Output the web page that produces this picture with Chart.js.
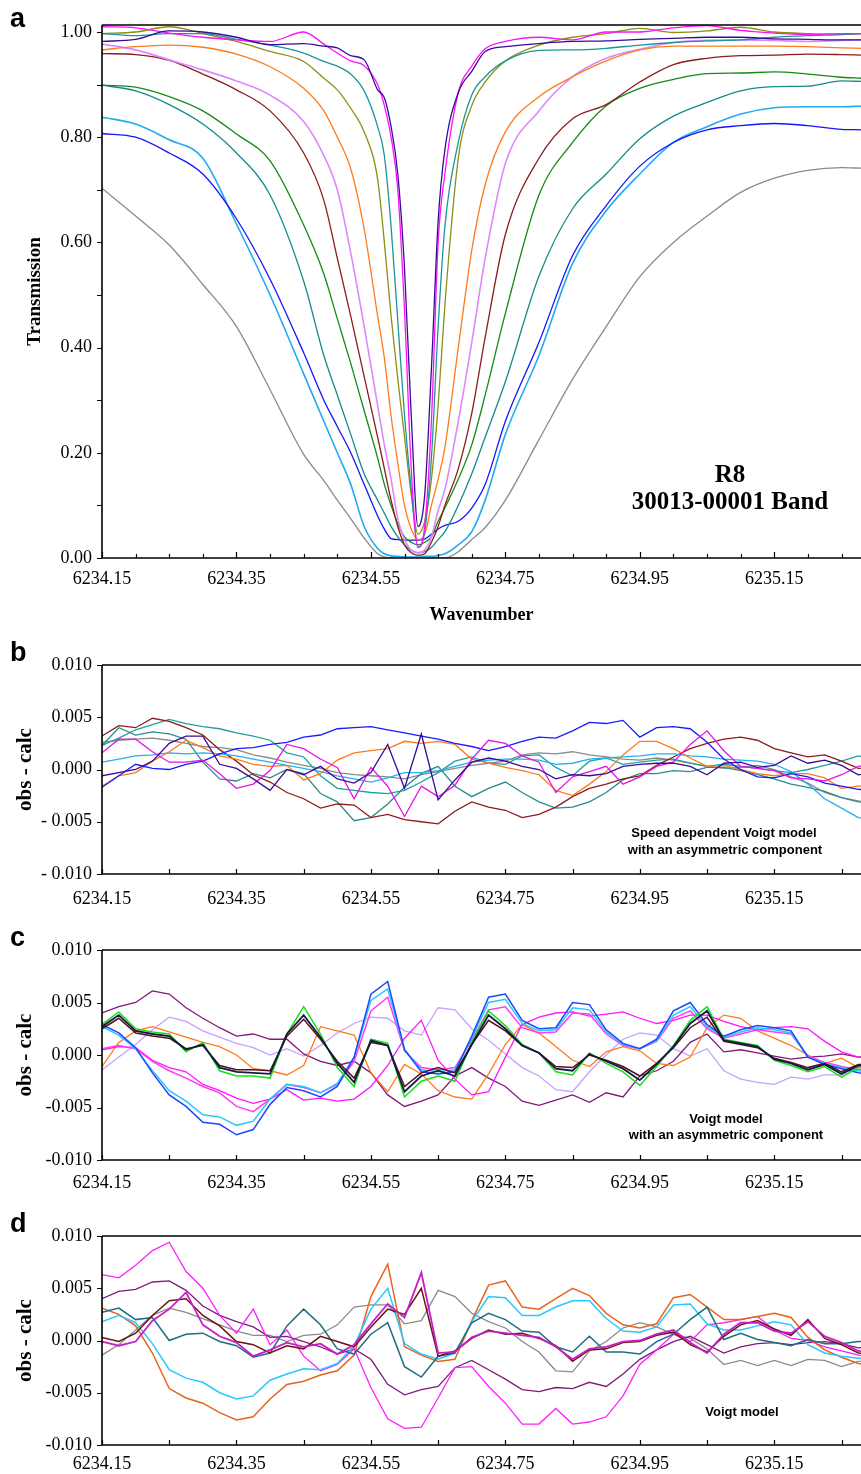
<!DOCTYPE html>
<html><head><meta charset="utf-8">
<script src="https://cdn.jsdelivr.net/npm/chart.js@4.4.0/dist/chart.umd.min.js"></script>
<style>
html,body{margin:0;padding:0;background:#fff;}
body{width:861px;height:1474px;position:relative;overflow:hidden;}
canvas{position:absolute;left:0;}
.lbl{position:absolute;white-space:nowrap;color:#000;}
.letter{font:bold 27px "Liberation Sans",Arial,sans-serif;line-height:27px;left:10px;}
.band{font:bold 25px "Liberation Serif","Times New Roman",serif;line-height:25px;width:300px;left:580px;text-align:center;}
.note{font:bold 13px "Liberation Sans",Arial,sans-serif;line-height:13px;width:300px;text-align:center;}
</style></head><body>
<canvas id="ca" width="861" height="640" style="top:0px"></canvas>
<canvas id="cb" width="861" height="270" style="top:640px"></canvas>
<canvas id="cc" width="861" height="270" style="top:925px"></canvas>
<canvas id="cd" width="861" height="264" style="top:1210px"></canvas>
<div class="lbl letter" style="top:5px">a</div>
<div class="lbl letter" style="top:639px">b</div>
<div class="lbl letter" style="top:924px">c</div>
<div class="lbl letter" style="top:1210px">d</div>
<div class="lbl band" style="top:461px">R8</div>
<div class="lbl band" style="top:488px">30013-00001 Band</div>
<div class="lbl note" style="top:826px;left:574px">Speed dependent Voigt model</div>
<div class="lbl note" style="top:843px;left:575px">with an asymmetric component</div>
<div class="lbl note" style="top:1112px;left:576px">Voigt model</div>
<div class="lbl note" style="top:1128px;left:576px">with an asymmetric component</div>
<div class="lbl note" style="top:1405px;left:592px">Voigt model</div>
<script>
// ---------- Panel a : transmission spectra ----------
const aWave = [6234.15, 6234.20, 6234.25, 6234.30, 6234.35, 6234.40, 6234.45, 6234.48, 6234.50, 6234.52,
  6234.54, 6234.56, 6234.57, 6234.58, 6234.59, 6234.60, 6234.61, 6234.62, 6234.63, 6234.64,
  6234.65, 6234.66, 6234.68, 6234.70, 6234.72, 6234.75, 6234.80, 6234.85, 6234.90, 6234.95,
  6235.00, 6235.05, 6235.10, 6235.15, 6235.20, 6235.25, 6235.28];
const aIndigo = [0.982,0.986,1.002,1.0,0.99,0.976,0.978,0.973,0.97,0.955,0.947,0.89,0.875,0.82,0.73,0.55,0.27,0.06,0.12,0.36,0.64,0.776,0.885,0.925,0.963,0.972,0.978,0.982,0.983,0.986,0.988,0.99,0.99,0.987,0.986,0.985,0.985];
const aMagenta = [1.01,1.008,0.998,0.99,0.985,0.982,1.0,0.977,0.96,0.945,0.936,0.90,0.86,0.80,0.70,0.47,0.17,0.02,0.06,0.26,0.60,0.73,0.885,0.935,0.968,0.982,0.99,0.985,1.0,1.0,1.008,1.012,1.003,0.998,0.995,0.997,0.997];
const aTealNarrow = [0.997,0.993,0.997,0.997,0.986,0.975,0.96,0.944,0.935,0.92,0.888,0.82,0.765,0.63,0.45,0.27,0.13,0.02,0.05,0.19,0.44,0.63,0.79,0.88,0.915,0.945,0.965,0.966,0.969,0.975,0.98,0.983,0.985,0.99,0.993,0.995,0.997];
const aOlive = [0.997,1.0,1.01,0.997,0.982,0.963,0.944,0.912,0.89,0.855,0.81,0.72,0.60,0.46,0.34,0.23,0.12,0.045,0.07,0.15,0.29,0.48,0.76,0.86,0.905,0.945,0.975,0.99,0.997,1.007,0.999,1.002,1.009,1.0,0.997,0.996,0.997];
const aOrange = [0.966,0.972,0.975,0.971,0.958,0.934,0.893,0.85,0.80,0.74,0.625,0.46,0.38,0.27,0.18,0.10,0.055,0.035,0.045,0.10,0.15,0.21,0.40,0.585,0.71,0.81,0.877,0.915,0.945,0.966,0.973,0.973,0.973,0.973,0.972,0.97,0.969];
const aViolet = [0.977,0.966,0.947,0.928,0.907,0.88,0.83,0.765,0.70,0.58,0.44,0.29,0.215,0.15,0.075,0.035,0.015,0.01,0.015,0.04,0.09,0.13,0.26,0.41,0.57,0.75,0.85,0.915,0.95,0.967,0.98,0.984,0.985,0.984,0.982,0.984,0.985];
const aMaroon = [0.959,0.957,0.946,0.92,0.89,0.85,0.77,0.68,0.57,0.46,0.345,0.23,0.17,0.11,0.06,0.025,0.01,0.005,0.008,0.03,0.06,0.10,0.17,0.275,0.42,0.615,0.76,0.835,0.862,0.905,0.938,0.95,0.955,0.956,0.958,0.957,0.956];
const aGreen = [0.899,0.895,0.877,0.85,0.806,0.755,0.633,0.54,0.455,0.37,0.28,0.19,0.14,0.10,0.065,0.04,0.03,0.025,0.03,0.04,0.07,0.095,0.15,0.215,0.31,0.465,0.69,0.79,0.86,0.893,0.91,0.921,0.922,0.924,0.92,0.914,0.912];
const aTealWide = [0.899,0.888,0.862,0.825,0.77,0.69,0.526,0.385,0.31,0.235,0.16,0.11,0.085,0.06,0.04,0.025,0.015,0.01,0.012,0.02,0.035,0.05,0.10,0.16,0.23,0.335,0.536,0.664,0.73,0.797,0.84,0.866,0.888,0.896,0.897,0.907,0.906];
const aBlue = [0.807,0.80,0.77,0.73,0.645,0.53,0.39,0.30,0.25,0.20,0.14,0.08,0.055,0.037,0.035,0.034,0.034,0.034,0.036,0.045,0.055,0.062,0.07,0.095,0.14,0.26,0.41,0.575,0.67,0.745,0.79,0.814,0.822,0.826,0.822,0.815,0.814];
const aLightBlue = [0.838,0.825,0.795,0.76,0.635,0.50,0.35,0.26,0.20,0.14,0.06,0.018,0.008,0.004,0.003,0.002,0.002,0.002,0.003,0.003,0.005,0.008,0.025,0.05,0.11,0.235,0.385,0.56,0.66,0.73,0.79,0.82,0.844,0.856,0.858,0.858,0.859];
const aGray = [0.703,0.65,0.595,0.52,0.44,0.32,0.197,0.147,0.11,0.075,0.038,0.008,0.002,0.0,0.0,0.0,0.0,0.0,0.0,0.0,0.0,0.0,0.012,0.035,0.058,0.11,0.225,0.34,0.44,0.535,0.60,0.65,0.695,0.722,0.737,0.742,0.741];

const aXTicks = [6234.15,6234.2,6234.25,6234.3,6234.35,6234.4,6234.45,6234.5,6234.55,6234.6,6234.65,6234.7,6234.75,6234.8,6234.85,6234.9,6234.95,6235.0,6235.05,6235.1,6235.15,6235.2,6235.25];
const aXLabels = ['6234.15','','','','6234.35','','','','6234.55','','','','6234.75','','','','6234.95','','','','6235.15','',''];
const aYTicks = [0,0.1,0.2,0.3,0.4,0.5,0.6,0.7,0.8,0.9,1.0];
const aYLabels = ['0.00','','0.20','','0.40','','0.60','','0.80','','1.00'];

// ---------- Residual panels (values in units of 0.001) ----------
const resX = [6234.15,6234.175,6234.2,6234.225,6234.25,6234.275,6234.3,6234.325,6234.35,6234.375,
  6234.4,6234.425,6234.45,6234.475,6234.5,6234.525,6234.55,6234.575,6234.6,6234.625,
  6234.65,6234.675,6234.7,6234.725,6234.75,6234.775,6234.8,6234.825,6234.85,6234.875,
  6234.9,6234.925,6234.95,6234.975,6235.0,6235.025,6235.05,6235.075,6235.1,6235.125,
  6235.15,6235.175,6235.2,6235.225,6235.25,6235.275,6235.3];
const resXTicks = [6234.15,6234.25,6234.35,6234.45,6234.55,6234.65,6234.75,6234.85,6234.95,6235.05,6235.15,6235.25];
const resXLabels = ['6234.15','','6234.35','','6234.55','','6234.75','','6234.95','','6235.15',''];
const resYTicks = [-10,-5,0,5,10];
const bYLabels = ['- 0.010','- 0.005','0.000','0.005','0.010'];
const cdYLabels = ['-0.010','-0.005','0.000','0.005','0.010'];

// panel b : speed dependent Voigt + asymmetry
const bBlue = [-1.7,-0.6,0.5,0.1,0.0,0.5,0.8,1.5,2.0,2.1, 2.4,2.6,3.1,3.3,3.9,4.0,4.1,3.8,3.5,3.2, 2.9,2.5,2.2,1.8,2.2,2.7,3.1,3.0,3.7,4.5, 4.4,4.7,3.1,4.0,4.1,3.9,2.6,1.0,0.0,-0.7, -0.8,-0.4,-0.7,-1.3,-1.6,-1.9,-2.0];
const bMaroon = [3.2,4.2,4.0,4.9,4.6,4.0,3.3,1.9,0.8,-0.5, -1.2,-2.2,-2.8,-3.7,-3.3,-3.4,-4.6,-4.3,-4.8,-5.0, -5.2,-4.0,-3.1,-3.6,-3.9,-4.6,-4.3,-3.6,-2.6,-1.8, -1.4,-0.9,-0.6,0.4,1.2,2.0,2.5,2.9,3.1,2.8, 2.0,1.6,1.2,1.4,0.8,0.1,0.3];
const bTealA = [2.3,4.0,3.3,3.6,3.4,2.9,0.7,-0.9,-1.1,-0.4, -0.8,0.0,-0.4,-2.3,-3.1,-4.9,-4.6,-3.3,-1.7,-0.4, 0.3,-1.6,-2.6,-1.8,-1.2,-2.2,-3.1,-3.7,-3.6,-3.1, -2.2,-1.0,-0.4,-0.4,-0.1,-0.2,0.2,0.2,-0.1,-0.5, -0.9,-1.4,-1.7,-2.1,-2.7,-3.1,-3.2];
const bTealB = [2.3,3.0,3.8,4.3,4.8,4.4,4.1,3.9,3.5,3.2, 2.8,1.6,1.2,-0.6,-1.8,-2.0,-2.2,-2.3,-2.0,-1.2, -0.3,0.8,1.2,0.6,0.5,1.3,1.4,0.2,-0.6,0.8, 1.1,0.5,0.7,0.9,1.0,0.6,0.3,0.5,0.3,0.1, -0.1,-0.3,0.0,0.4,0.8,1.3,1.0];
const bGray = [2.6,2.8,2.9,3.0,2.8,2.5,2.2,2.1,1.9,1.4, 1.1,0.7,0.4,0.1,-0.3,-0.5,-0.6,-0.7,-0.9,-0.5, -0.2,0.1,0.4,0.6,0.8,1.4,1.6,1.5,1.7,1.4, 1.2,1.0,0.9,1.1,0.9,0.6,0.3,0.1,0.2,0.4, 0.0,-0.7,-1.3,-2.2,-2.7,-3.0,-3.2];
const bOrange = [-1.6,-0.6,-0.3,0.8,1.7,2.8,2.1,1.3,1.0,0.5, 0.3,0.4,-1.0,-0.4,0.9,1.6,1.8,2.0,2.7,2.5, 2.7,2.4,1.0,0.6,0.2,-0.1,-0.5,-2.0,-2.5,-1.4, -0.2,1.4,2.7,2.7,2.0,1.1,0.3,0.4,0.0,-0.4, -0.6,-0.4,-0.4,-0.8,-1.8,-1.6,-1.5];
const bIndigo = [-0.6,-0.3,0.0,0.8,2.5,3.2,3.2,0.5,0.1,-0.9, -2.0,0.0,-0.5,0.3,-0.9,-1.3,-0.3,2.4,-1.8,3.4, -2.9,-1.0,0.7,1.1,0.8,0.3,0.0,-0.9,-0.5,-0.6, -0.4,0.3,0.5,0.6,0.6,0.3,-0.5,0.6,0.7,0.2, 0.4,1.3,0.6,0.9,0.4,-0.5,-0.3];
const bMagenta = [1.6,2.9,2.9,1.7,0.7,0.7,0.9,-0.4,-1.8,-1.4, -0.1,2.4,2.0,1.0,0.2,-2.8,0.2,-1.6,-4.5,-1.6, -2.6,-1.5,1.0,2.8,2.5,1.3,0.7,-2.2,-0.7,-0.2, 0.3,-1.4,-0.7,0.3,0.7,2.4,3.7,1.8,0.3,0.1, -0.1,-0.8,-0.9,-1.1,-0.5,0.3,0.5];
const bLightBlue = [0.7,1.0,1.3,1.4,1.6,1.5,1.6,1.5,1.3,1.0, 0.7,0.4,0.1,-0.2,-0.6,-0.9,-1.2,-0.8,-0.3,-0.3, -0.1,0.3,0.7,0.9,1.0,1.0,0.9,0.5,0.6,1.0, 1.1,1.2,1.3,1.5,1.5,1.3,1.2,1.0,0.9,0.8, 0.5,-0.2,-1.4,-2.8,-3.7,-4.6,-4.8];

// panel c : Voigt + asymmetry
const cGreen = [2.9,4.1,2.5,2.2,2.0,0.3,1.2,-1.5,-2.0,-2.0, -2.2,2.0,4.6,2.0,-1.2,-3.0,1.5,1.1,-4.0,-2.5, -2.0,-2.5,1.2,4.2,2.8,1.0,0.2,-1.6,-1.9,0.2, -0.8,-1.6,-2.9,-1.1,0.9,3.3,4.6,1.5,1.2,0.9, -0.5,-1.0,-1.6,-1.1,-2.1,-1.2,-1.1];
const cNavy = [2.7,3.8,2.3,2.0,1.8,0.5,1.0,-1.2,-1.6,-1.7, -1.8,2.0,3.8,1.7,-0.8,-2.6,1.4,0.9,-3.5,-2.0, -1.5,-2.0,1.0,3.8,2.5,0.9,0.2,-1.3,-1.5,0.1, -0.6,-1.3,-2.4,-0.9,0.8,3.0,4.2,1.4,1.1,0.8, -0.4,-0.8,-1.4,-0.9,-1.8,-1.0,-1.0];
const cMaroon = [2.5,3.5,2.1,1.8,1.6,0.6,0.9,-1.0,-1.4,-1.4, -1.5,1.8,3.4,1.5,-0.6,-2.2,1.2,0.9,-3.0,-1.7, -1.2,-1.7,1.0,3.3,2.3,0.9,0.2,-1.1,-1.2,0.0, -0.5,-1.1,-2.0,-0.8,0.7,2.6,3.6,1.3,1.0,0.7, -0.3,-0.7,-1.2,-0.8,-1.6,-0.9,-0.9];
const cBlue = [2.9,2.1,0.7,-1.7,-3.8,-4.9,-6.4,-6.6,-7.6,-7.1, -4.7,-3.1,-3.4,-4.0,-3.0,-0.2,5.8,7.0,0.5,-1.6, -1.8,-1.6,1.8,5.5,5.8,3.3,2.5,2.6,5.0,4.8, 2.4,1.1,0.6,1.5,4.2,5.0,2.9,1.8,2.4,2.8, 2.6,2.3,-0.2,-0.9,-1.3,-1.7,-1.8];
const cCyan = [2.7,1.9,0.6,-1.5,-3.4,-4.4,-5.7,-5.9,-6.7,-6.3, -4.2,-2.8,-3.0,-3.6,-2.7,-0.2,5.2,6.3,0.5,-1.4, -1.6,-1.4,1.6,5.0,5.3,3.0,2.3,2.4,4.5,4.3, 2.2,1.0,0.6,1.4,3.8,4.6,2.7,1.7,2.2,2.6, 2.4,2.1,-0.2,-0.8,-1.2,-1.5,-1.6];
const cPink = [0.6,0.9,0.6,-0.6,-1.5,-2.2,-3.0,-3.6,-4.9,-5.4, -4.2,-2.8,-3.1,-3.6,-2.8,-0.6,4.2,5.5,0.4,-1.2, -1.4,-1.2,1.4,4.3,4.6,2.6,2.1,2.2,4.0,3.9, 2.0,0.9,0.6,1.3,3.5,4.2,2.5,1.6,2.0,2.4, 2.2,2.0,-0.1,-0.7,-1.1,-1.4,-1.5];
const cMagenta = [0.5,0.8,0.7,-0.5,-1.2,-1.6,-2.8,-3.4,-4.1,-4.6, -4.2,-3.3,-4.3,-4.1,-4.4,-4.2,-3.0,-1.0,1.6,3.3, -0.5,-2.3,-3.8,-3.5,-0.2,2.9,3.6,4.0,4.1,3.7, 3.9,4.1,3.5,3.0,3.3,3.8,3.8,3.2,2.7,2.4, 2.6,2.7,2.5,1.3,0.3,-0.2,-0.4];
const cOrange = [-1.1,1.2,2.3,2.7,2.2,1.7,1.2,0.8,0.0,-1.3, -1.5,-1.9,-1.0,2.7,2.3,1.9,-1.7,-3.5,-0.9,-1.8, -3.4,-4.0,-4.2,-1.8,1.0,2.9,2.1,0.8,-0.5,-1.1, 0.3,0.8,0.4,-0.8,-1.0,-0.2,2.6,3.8,3.5,2.3, 1.6,0.9,0.0,-0.8,-0.3,-1.2,-1.3];
const cPurple = [4.0,4.6,5.0,6.1,5.8,4.5,3.5,2.6,1.8,2.0, 1.5,1.5,0.1,-0.6,-1.0,-0.6,-1.7,-3.8,-4.9,-4.4, -3.8,-2.0,-1.2,-2.2,-3.0,-4.4,-4.8,-4.3,-3.8,-4.5, -3.6,-4.0,-2.0,-1.5,-0.6,1.2,2.0,0.3,0.5,0.2, -0.1,-0.4,-0.2,-0.1,0.1,-0.2,-0.1];
const cLavender = [-1.4,-0.2,1.0,2.4,3.6,3.2,2.3,1.7,1.1,0.7, 0.0,0.6,-0.1,0.9,2.1,3.0,3.6,3.5,2.3,1.9, 4.5,4.3,2.5,1.4,0.1,-1.2,-2.0,-3.3,-3.5,-1.6, 0.0,1.5,2.1,1.9,0.6,-0.1,0.6,-1.5,-2.3,-2.6, -2.8,-2.1,-2.3,-1.9,-1.9,-1.1,-0.9];

// panel d : Voigt
const dMagenta = [6.3,6.0,7.2,8.6,9.4,6.6,5.0,2.4,0.7,3.0, -0.4,1.0,-1.5,-2.9,-2.3,-0.8,-4.5,-7.5,-8.4,-8.3, -5.5,-2.6,-2.5,-4.4,-6.0,-8.0,-8.0,-6.5,-8.0,-7.8, -7.3,-5.3,-2.3,-0.9,0.6,-0.1,1.5,1.7,2.0,2.3, 1.0,0.2,0.0,-0.6,-1.0,-1.4,-1.5];
const dPurple = [4.0,4.7,4.9,5.6,5.7,4.8,3.3,2.4,1.8,1.3, 0.3,0.4,-0.1,-0.6,-1.3,-0.8,-1.8,-4.2,-5.2,-4.7, -4.4,-2.6,-1.9,-2.8,-3.7,-4.7,-4.9,-4.5,-4.6,-4.0, -4.4,-3.2,-1.8,-0.9,-0.1,0.4,-0.4,-1.2,-0.6,-0.3, -0.2,-0.4,-0.2,-0.1,-0.3,-0.7,-0.6];
const dGray = [-1.4,-0.4,1.0,2.4,3.1,2.7,2.1,1.5,0.9,0.5, 0.5,-0.1,0.5,0.6,1.5,3.2,3.4,3.4,1.6,1.9, 4.8,4.2,2.6,1.8,1.2,-0.1,-1.1,-2.9,-3.0,-1.0, -0.1,1.2,1.7,1.3,0.6,0.2,-0.8,-2.3,-1.9,-2.4, -1.9,-2.4,-1.8,-1.9,-2.5,-2.0,-1.8];
const dMaroon = [0.3,-0.1,0.7,2.4,3.8,4.0,2.4,1.4,-0.1,-0.4, -1.2,-0.5,-0.8,0.4,-0.1,-0.6,1.3,3.0,2.5,5.0, -1.5,-1.0,0.2,1.0,0.6,0.7,0.2,-0.5,-2.0,-0.9, -0.8,-0.2,-0.1,0.5,0.8,-0.4,-1.1,0.4,1.5,1.9, 1.1,0.5,2.0,0.2,-0.4,-1.2,-1.3];
const dMagenta2 = [-0.1,-0.5,-0.1,1.9,3.0,4.6,1.5,0.4,-0.2,-1.5, -0.9,-0.2,-0.6,-0.3,-1.3,-0.4,1.6,3.5,2.2,6.5, -1.2,-1.1,0.3,0.9,0.7,0.5,0.3,-0.6,-1.8,-0.8, -0.6,-0.1,0.0,0.6,1.0,-0.2,-1.2,0.6,1.7,1.7, 0.9,0.7,1.8,0.4,-0.2,-1.0,-1.2];
const dTeal = [2.7,3.1,2.0,2.2,0.0,0.6,0.7,-0.1,-0.5,-1.6, -1.2,1.4,3.0,1.5,-0.8,-1.3,0.6,1.7,-2.5,-3.5, -1.5,-1.2,1.7,2.6,2.0,0.9,0.8,-0.6,-1.1,0.4, -1.1,-1.1,-1.3,-0.1,0.6,2.0,3.2,0.1,0.7,0.1, -0.2,-0.5,0.1,-0.3,-0.3,-0.1,0.0];
const dCyan = [1.8,2.4,1.7,-0.3,-2.8,-3.6,-4.0,-5.0,-5.6,-5.3, -3.8,-3.2,-2.7,-2.8,-2.2,-0.5,3.0,5.0,-0.3,-1.3, -1.8,-1.2,1.8,4.2,4.1,2.4,2.4,3.2,3.8,3.8, 2.1,0.9,0.8,1.3,3.4,3.5,1.6,1.0,1.0,1.4, 1.8,1.5,-0.4,-1.2,-1.5,-1.7,-1.7];
const dOrange = [3.1,2.5,1.4,-1.2,-4.6,-5.5,-6.0,-6.9,-7.6,-7.3, -5.6,-4.2,-3.9,-3.3,-2.9,-1.4,4.2,7.3,-0.6,-1.4, -2.0,-1.8,1.9,5.3,5.7,3.2,3.0,4.0,5.0,4.3, 2.6,1.5,1.2,1.6,4.1,4.4,3.2,2.0,2.0,2.3, 2.6,2.2,0.3,-0.9,-1.6,-2.2,-2.3];

// ---------- chart construction ----------
const X_MIN = 6234.15, X_MAX = 6235.279;
const SERIF = '"Liberation Serif", "Times New Roman", serif';

function line(xs, ys, color, width, smooth) {
  return {
    data: xs.map((x, i) => ({ x: x, y: ys[i] })),
    borderColor: color, borderWidth: width, pointRadius: 0, fill: false,
    tension: smooth ? 0.4 : 0, cubicInterpolationMode: smooth ? 'monotone' : 'default'
  };
}

const frame = {
  id: 'frame',
  afterDraw(chart, args, o) {
    const ctx = chart.ctx, a = chart.chartArea, x = chart.scales.x, y = chart.scales.y;
    ctx.save();
    ctx.strokeStyle = '#000';
    ctx.lineWidth = 1.2;
    ctx.beginPath();
    x.ticks.forEach((t, i) => {
      const px = Math.round(x.getPixelForValue(t.value)) + 0.5;
      const len = o.xLabels[i] ? o.major : o.minor;
      ctx.moveTo(px, a.bottom); ctx.lineTo(px, a.bottom - len);
    });
    y.ticks.forEach(t => {
      const py = Math.round(y.getPixelForValue(t.value)) + 0.5;
      ctx.moveTo(a.left, py); ctx.lineTo(a.left - 5, py);
    });
    ctx.stroke();
    ctx.lineWidth = 1.6;
    ctx.beginPath();
    ctx.moveTo(a.left, a.top); ctx.lineTo(a.left, a.bottom); ctx.lineTo(a.right, a.bottom);
    ctx.moveTo(a.left, a.top); ctx.lineTo(a.right, a.top);
    ctx.stroke();
    ctx.restore();
  }
};

function panel(id, datasets, o) {
  return new Chart(document.getElementById(id), {
    type: 'line',
    data: { datasets: datasets },
    options: {
      responsive: false, animation: false, devicePixelRatio: 1,
      layout: { padding: { top: o.padTop, left: 0, right: 0, bottom: 0 } },
      plugins: {
        legend: { display: false }, tooltip: { enabled: false },
        frame: { xLabels: o.xLabels, major: o.major, minor: o.minor }
      },
      scales: {
        x: {
          type: 'linear', min: X_MIN, max: X_MAX,
          grid: { display: false, drawTicks: false }, border: { display: false },
          afterBuildTicks: s => { s.ticks = o.xTicks.map(v => ({ value: v })); },
          afterFit: s => { s.height = o.xHeight; },
          ticks: { autoSkip: false, maxRotation: 0, minRotation: 0, padding: o.xPad, color: '#000',
                   font: { family: SERIF, size: 18 }, callback: (v, i) => o.xLabels[i] },
          title: o.xTitle ? { display: true, text: o.xTitle, color: '#000',
                   font: { family: SERIF, size: 18, weight: 'bold' }, padding: { top: 0, bottom: 13.5 } }
                 : { display: false }
        },
        y: {
          type: 'linear', min: o.yMin, max: o.yMax,
          grid: { display: false, drawTicks: false }, border: { display: false },
          afterBuildTicks: s => { s.ticks = o.yTicks.map(v => ({ value: v })); },
          afterFit: s => { s.width = 102; },
          ticks: { autoSkip: false, padding: 10, color: '#000',
                   font: { family: SERIF, size: 18 }, callback: (v, i) => o.yLabels[i] },
          title: { display: true, text: o.yTitle, color: '#000',
                   font: { family: SERIF, size: o.yTitleSize, weight: 'bold' },
                   padding: { top: o.yTitlePad, bottom: 0 } }
        }
      }
    },
    plugins: [frame]
  });
}

const W = 1.3;
panel('ca', [
  line(aWave, aIndigo, '#3a0a98', W, true),
  line(aWave, aMagenta, '#ff10ff', W, true),
  line(aWave, aTealNarrow, '#1a9898', W, true),
  line(aWave, aOlive, '#8e8e12', W, true),
  line(aWave, aOrange, '#ff7a1a', W, true),
  line(aWave, aViolet, '#dd88ff', 1.6, true),
  line(aWave, aMaroon, '#8c1c1c', W, true),
  line(aWave, aGreen, '#158a15', W, true),
  line(aWave, aTealWide, '#168a8a', W, true),
  line(aWave, aBlue, '#1414ff', W, true),
  line(aWave, aLightBlue, '#22aaee', 1.6, true),
  line(aWave, aGray, '#8a8a8a', W, true)
], { padTop: 25, xHeight: 82, xPad: 10, xTicks: aXTicks, xLabels: aXLabels, major: 6, minor: 4,
     yMin: 0, yMax: 1.0133, yTicks: aYTicks, yLabels: aYLabels,
     yTitle: 'Transmission', yTitleSize: 19, yTitlePad: 24, xTitle: 'Wavenumber' });

panel('cb', [
  line(resX, bIndigo, '#3a0a98', W),
  line(resX, bMagenta, '#e614e6', W),
  line(resX, bBlue, '#1a1aff', W),
  line(resX, bOrange, '#ff7a1a', W),
  line(resX, bLightBlue, '#22b0f0', W),
  line(resX, bMaroon, '#8c1c1c', W),
  line(resX, bTealA, '#2a8c8c', W),
  line(resX, bTealB, '#20a0a0', W),
  line(resX, bGray, '#8a8a8a', W)
], { padTop: 25, xHeight: 36, xPad: 14, xTicks: resXTicks, xLabels: resXLabels, major: 5, minor: 5,
     yMin: -10, yMax: 10, yTicks: resYTicks, yLabels: bYLabels,
     yTitle: 'obs - calc', yTitleSize: 21, yTitlePad: 13 });

panel('cc', [
  line(resX, cNavy, '#101c44', 1.8),
  line(resX, cMaroon, '#5a0f23', 1.5),
  line(resX, cGreen, '#18e018', 1.5),
  line(resX, cBlue, '#1e46ff', 1.5),
  line(resX, cCyan, '#28c8ff', 1.5),
  line(resX, cPink, '#ff3cf0', 1.5),
  line(resX, cMagenta, '#ff14ff', W),
  line(resX, cOrange, '#ff7a1a', W),
  line(resX, cPurple, '#82187d', W),
  line(resX, cLavender, '#c8a0ff', W)
], { padTop: 25, xHeight: 35, xPad: 12, xTicks: resXTicks, xLabels: resXLabels, major: 5, minor: 5,
     yMin: -10, yMax: 10, yTicks: resYTicks, yLabels: cdYLabels,
     yTitle: 'obs - calc', yTitleSize: 21, yTitlePad: 13 });

panel('cd', [
  line(resX, dMagenta2, '#c81ec8', 1.8),
  line(resX, dMaroon, '#6e1414', 1.5),
  line(resX, dTeal, '#1e6e82', 1.5),
  line(resX, dCyan, '#28c8ff', 1.5),
  line(resX, dOrange, '#e6641e', 1.5),
  line(resX, dMagenta, '#ff1eff', W),
  line(resX, dPurple, '#82187d', W),
  line(resX, dGray, '#8a8a8a', W)
], { padTop: 26, xHeight: 29, xPad: 8, xTicks: resXTicks, xLabels: resXLabels, major: 5, minor: 5,
     yMin: -10, yMax: 10, yTicks: resYTicks, yLabels: cdYLabels,
     yTitle: 'obs - calc', yTitleSize: 21, yTitlePad: 13 });
</script>
</body></html>
